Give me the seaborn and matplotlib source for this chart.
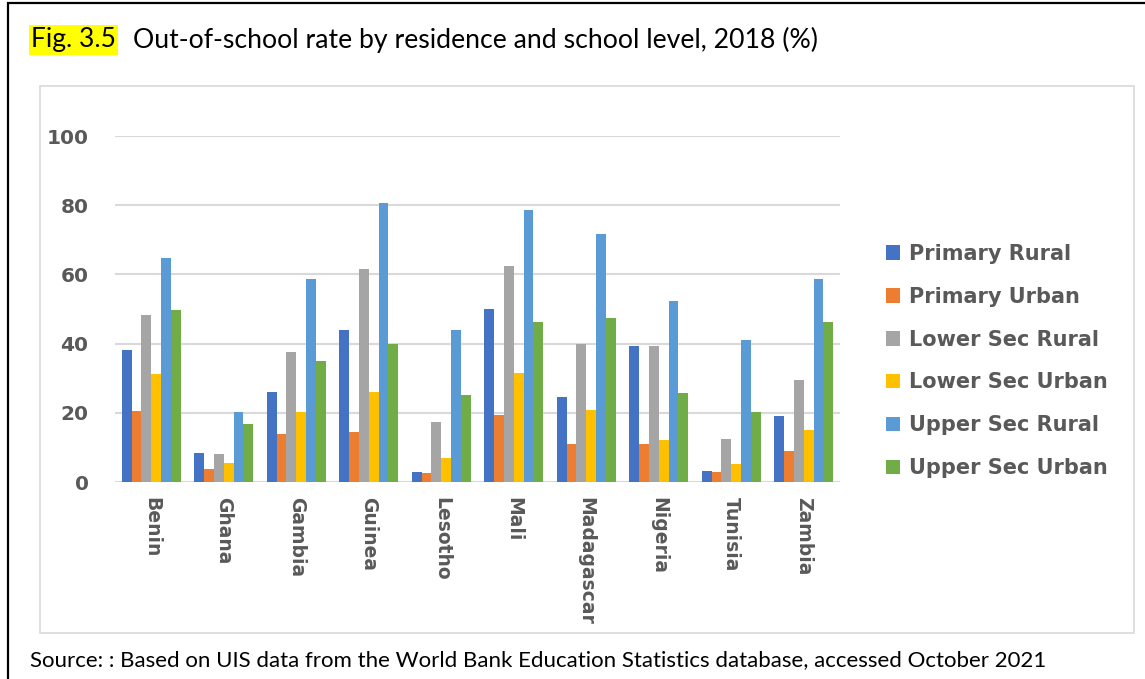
import matplotlib
matplotlib.use("Agg")
import matplotlib.pyplot as plt
from matplotlib.patches import Rectangle
import seaborn as sns
import pandas as pd

countries = ["Benin", "Ghana", "Gambia", "Guinea", "Lesotho",
             "Mali", "Madagascar", "Nigeria", "Tunisia", "Zambia"]

primary_rural = [38.1, 8.5, 26.0, 44.0, 2.9, 50.0, 24.5, 39.2, 3.2, 19.1]
primary_urban = [20.5, 3.7, 14.0, 14.5, 2.6, 19.4, 10.9, 11.1, 2.9, 9.1]
lower_sec_rural = [48.2, 8.0, 37.7, 61.7, 17.4, 62.4, 39.8, 39.2, 12.4, 29.6]
lower_sec_urban = [31.1, 5.6, 20.3, 26.0, 7.0, 31.6, 20.7, 12.1, 5.1, 14.9]
upper_sec_rural = [64.6, 20.3, 58.6, 80.7, 44.0, 78.6, 71.7, 52.2, 40.9, 58.8]
upper_sec_urban = [49.6, 16.7, 35.1, 40.0, 25.2, 46.2, 47.5, 25.7, 20.1, 46.2]

series_names = ["Primary Rural", "Primary Urban", "Lower Sec Rural",
                "Lower Sec Urban", "Upper Sec Rural", "Upper Sec Urban"]
series_values = [primary_rural, primary_urban, lower_sec_rural,
                 lower_sec_urban, upper_sec_rural, upper_sec_urban]
colors = ["#4472C4", "#ED7D31", "#A5A5A5", "#FFC000", "#5B9BD5", "#70AD47"]

y_ticks = [0, 20, 40, 60, 80, 100]

rows = []
for name, vals in zip(series_names, series_values):
    for c, v in zip(countries, vals):
        rows.append({"country": c, "series": name, "value": v})
df = pd.DataFrame(rows)

sns.set_theme(style="white")
plt.rcParams["font.family"] = ["DejaVu Sans"]

W, H = 1145, 679
fig = plt.figure(figsize=(W / 100, H / 100), dpi=100)

# outer black frame and inner light chart frame
fig.patches.append(Rectangle((8 / W, -0.05), 1.1, (H - 3) / H + 0.05,
                             transform=fig.transFigure, fill=False,
                             edgecolor="black", linewidth=1.6))
fig.patches.append(Rectangle((40 / W, 1 - 633 / H), (1134 - 40) / W, (633 - 86) / H,
                             transform=fig.transFigure, fill=False,
                             edgecolor="#d9d9d9", linewidth=1.2))

ax = fig.add_axes([115 / W, 1 - 482 / H, 725 / W, 346 / H])
sns.barplot(data=df, x="country", y="value", hue="series", palette=colors,
            width=0.81, saturation=1, linewidth=0, ax=ax, errorbar=None)

ax.set_ylim(0, 100)
ax.set_xlim(-0.5, len(countries) - 0.5)
ax.set_yticks(y_ticks)
ax.yaxis.grid(True, color="#d9d9d9", linewidth=1.5)
ax.set_axisbelow(True)
for s in ax.spines.values():
    s.set_visible(False)
ax.set_xlabel("")
ax.set_ylabel("")
ax.tick_params(axis="y", length=0, pad=19, labelsize=14.5, labelcolor="#595959")
ax.tick_params(axis="x", length=0, pad=11, labelsize=13.5, labelcolor="#595959")
for lab in ax.get_yticklabels():
    lab.set_fontweight("bold")
for lab in ax.get_xticklabels():
    lab.set_fontweight("bold")
    lab.set_rotation(-90)
    lab.set_va("top")
    lab.set_ha("center")

handles, labels = ax.get_legend_handles_labels()
ax.get_legend().remove()
leg = fig.legend(handles, labels, loc="upper left",
                 bbox_to_anchor=(867 / W, 1 - 225 / H),
                 frameon=False, handlelength=0.7, handleheight=0.7,
                 handletextpad=0.4, labelspacing=1.1,
                 prop={"size": 15, "weight": "bold"})
for t in leg.get_texts():
    t.set_color("#595959")

fig.text(31 / W, 1 - 40 / H, "Fig. 3.5", family="Lato", fontsize=19,
         va="center", ha="left", color="black",
         bbox=dict(facecolor="#FFFF00", edgecolor="none", pad=1.5))
fig.text(133 / W, 1 - 40 / H,
         "Out-of-school rate by residence and school level, 2018 (%)",
         family="Lato", fontsize=19.2, va="center", ha="left", color="black")
fig.text(30 / W, 1 - 660 / H,
         "Source: : Based on UIS data from the World Bank Education Statistics database, accessed October 2021",
         family="Lato", fontsize=16, va="center", ha="left", color="black")

fig.savefig("out.png", dpi=100, facecolor="white")
